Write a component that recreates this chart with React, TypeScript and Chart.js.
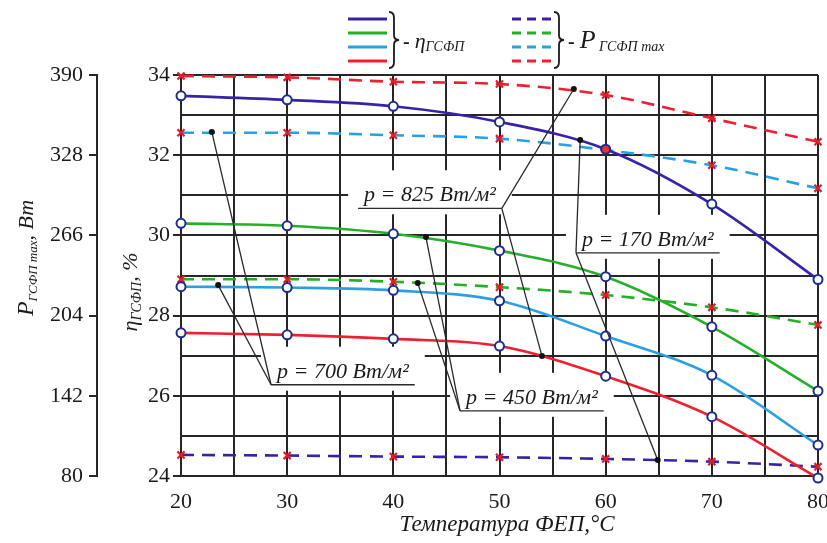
import React, { useEffect, useRef } from "react";
import { Chart, registerables } from "chart.js";
Chart.register(...registerables);

// ---------- data ----------
const temps = [20, 30, 40, 50, 60, 70, 80];
// efficiency η (%), solid lines
const etaPurple = [33.48, 33.38, 33.22, 32.83, 32.15, 30.78, 28.9];
const etaGreen = [30.3, 30.24, 30.04, 29.62, 28.97, 27.72, 26.12];
const etaBlue = [28.72, 28.7, 28.63, 28.37, 27.49, 26.51, 24.77];
const etaRed = [27.57, 27.52, 27.42, 27.24, 26.49, 25.48, 23.95];
// max power P (W), dashed lines
const pRed = [389.2, 388.2, 384.8, 383, 374.5, 356.5, 338.4];
const pBlue = [345.4, 345.4, 343.4, 340.8, 332, 320.2, 302.4];
const pGreen = [232.1, 232.1, 230.2, 226, 219.9, 210.4, 196.8];
const pPurple = [96.3, 95.8, 95, 94.5, 93.2, 91.1, 87.2];
// ticks
const pTicks = [80, 142, 204, 266, 328, 390];
const etaTickLabels = [24, 26, 28, 30, 32, 34];
const xTickLabels = [20, 30, 40, 50, 60, 70, 80];
// annotation labels (data units: temperature, η)
const annLabels = ["p = 825 Вт/м²", "p = 700 Вт/м²", "p = 450 Вт/м²", "p = 170 Вт/м²"];
const annCenterX = [43.45, 35.25, 53.05, 63.97];
const annCenterY = [31.0, 26.6, 25.95, 29.89];
const annAnchorSide = ["right", "left", "left", "left"];
const annDots = [
  [[57, 33.65], [54, 26.99]],
  [[22.9, 32.58], [23.5, 28.76]],
  [[43.07, 29.96], [42.3, 28.81]],
  [[57.6, 32.38], [64.9, 24.4]],
];

const C_PURPLE = "#3a22a6";
const C_GREEN = "#25b02a";
const C_BLUE = "#2a9fe2";
const C_RED = "#ee2030";
const SERIF = "'Liberation Serif', 'Times New Roman', serif";

function segsDraw(ctx: CanvasRenderingContext2D, segs: any[], cx: number, cy: number, rot: number, align = "center") {
  ctx.save();
  ctx.translate(cx, cy);
  ctx.rotate(rot);
  let total = 0;
  segs.forEach((s) => {
    ctx.font = s.font;
    s.w = ctx.measureText(s.t).width;
    total += s.w;
  });
  let x = align === "center" ? -total / 2 : 0;
  ctx.textBaseline = "alphabetic";
  ctx.textAlign = "left";
  ctx.fillStyle = "#1a1a1a";
  segs.forEach((s) => {
    ctx.font = s.font;
    ctx.fillText(s.t, x, s.dy);
    x += s.w;
  });
  ctx.restore();
}

function brace(ctx: CanvasRenderingContext2D, x: number, y1: number, y2: number, w: number) {
  const ym = (y1 + y2) / 2;
  const xm = x + w * 0.5;
  ctx.save();
  ctx.strokeStyle = "#1a1a1a";
  ctx.lineWidth = 1.8;
  ctx.beginPath();
  ctx.moveTo(x, y1);
  ctx.quadraticCurveTo(xm, y1, xm, y1 + 6);
  ctx.lineTo(xm, ym - 5);
  ctx.quadraticCurveTo(xm, ym, x + w, ym);
  ctx.quadraticCurveTo(xm, ym, xm, ym + 5);
  ctx.lineTo(xm, y2 - 6);
  ctx.quadraticCurveTo(xm, y2, x, y2);
  ctx.stroke();
  ctx.restore();
}

const ANN_FONT = "italic 22px " + SERIF;

function annGeom(ctx: CanvasRenderingContext2D, chart: any, i: number) {
  const xs = chart.scales.x;
  const ys = chart.scales.yEta;
  const cx = xs.getPixelForValue(annCenterX[i]);
  const cy = ys.getPixelForValue(annCenterY[i]);
  ctx.font = ANN_FONT;
  const w = ctx.measureText(annLabels[i]).width;
  return { cx, cy, w };
}

const overlay = {
  id: "overlay",
  beforeDatasetsDraw(chart: any) {
    const ctx = chart.ctx as CanvasRenderingContext2D;
    ctx.save();
    ctx.fillStyle = "#ffffff";
    for (let i = 0; i < annLabels.length; i++) {
      const { cx, cy, w } = annGeom(ctx, chart, i);
      ctx.fillRect(cx - w / 2 - 16, cy - 25, w + 32, 44);
    }
    ctx.restore();
  },
  afterDraw(chart: any) {
    const ctx = chart.ctx as CanvasRenderingContext2D;
    const xs = chart.scales.x;
    const ys = chart.scales.yEta;
    // annotations
    for (let i = 0; i < annLabels.length; i++) {
      const { cx, cy, w } = annGeom(ctx, chart, i);
      ctx.save();
      ctx.font = ANN_FONT;
      ctx.fillStyle = "#1a1a1a";
      ctx.textAlign = "center";
      ctx.textBaseline = "middle";
      ctx.fillText(annLabels[i], cx, cy);
      const ul = cx - w / 2 - 6;
      const ur = cx + w / 2 + 6;
      const uy = cy + 13;
      ctx.strokeStyle = "#2a2a2a";
      ctx.lineWidth = 1.3;
      ctx.beginPath();
      ctx.moveTo(ul, uy);
      ctx.lineTo(ur, uy);
      ctx.stroke();
      const ax = annAnchorSide[i] === "right" ? ur : ul;
      annDots[i].forEach((d) => {
        const px = xs.getPixelForValue(d[0]);
        const py = ys.getPixelForValue(d[1]);
        ctx.beginPath();
        ctx.moveTo(ax, uy);
        ctx.lineTo(px, py);
        ctx.stroke();
        ctx.beginPath();
        ctx.fillStyle = "#111";
        ctx.arc(px, py, 3, 0, Math.PI * 2);
        ctx.fill();
      });
      ctx.restore();
    }
    // legend
    const cols = [C_PURPLE, C_GREEN, C_BLUE, C_RED];
    const ly = [19, 33, 47, 61];
    ctx.save();
    ctx.lineWidth = 3;
    cols.forEach((c, k) => {
      ctx.strokeStyle = c;
      ctx.setLineDash([]);
      ctx.beginPath();
      ctx.moveTo(348, ly[k]);
      ctx.lineTo(387, ly[k]);
      ctx.stroke();
      ctx.setLineDash([9, 6]);
      ctx.beginPath();
      ctx.moveTo(512, ly[k]);
      ctx.lineTo(552, ly[k]);
      ctx.stroke();
    });
    ctx.restore();
    brace(ctx, 389, 12, 68, 10);
    brace(ctx, 554, 12, 68, 10);
    segsDraw(ctx, [
      { t: "- ", font: "bold 20px " + SERIF, dy: 0 },
      { t: "η", font: "italic 22px " + SERIF, dy: 0 },
      { t: "ГСФП", font: "italic 14px " + SERIF, dy: 3 },
    ], 403, 48, 0, "left");
    segsDraw(ctx, [
      { t: "- ", font: "bold 20px " + SERIF, dy: 0 },
      { t: "P", font: "italic 26px " + SERIF, dy: 0 },
      { t: " ГСФП max", font: "italic 14px " + SERIF, dy: 3 },
    ], 568, 48, 0, "left");
    // axis titles
    segsDraw(ctx, [
      { t: "P", font: "italic 24px " + SERIF, dy: 8 },
      { t: "ГСФП max", font: "italic 13px " + SERIF, dy: 12 },
      { t: ", Вт", font: "italic 22px " + SERIF, dy: 8 },
    ], 25, 258, -Math.PI / 2);
    segsDraw(ctx, [
      { t: "η", font: "italic 22px " + SERIF, dy: 7 },
      { t: "ГСФП", font: "italic 14px " + SERIF, dy: 11 },
      { t: ", %", font: "italic 22px " + SERIF, dy: 7 },
    ], 130, 292, -Math.PI / 2);
    segsDraw(ctx, [
      { t: "Температура ФЕП,°С", font: "italic 23px " + SERIF, dy: 8 },
    ], 507, 523, 0);
  },
};

function mk(data: number[]) {
  return temps.map((t, i) => ({ x: t, y: data[i] }));
}

export default function App() {
  const ref = useRef<HTMLCanvasElement | null>(null);
  useEffect(() => {
    if (!ref.current) return;
    const solid = (label: string, d: number[], color: string, bg?: any) => ({
      label,
      data: mk(d),
      yAxisID: "yEta",
      borderColor: color,
      borderWidth: 2.6,
      pointStyle: "circle",
      pointRadius: 4.5,
      pointBackgroundColor: bg || "#ffffff",
      pointBorderColor: "#1d2c8e",
      pointBorderWidth: 2,
      cubicInterpolationMode: "monotone",
      clip: false,
    });
    const dashed = (label: string, d: number[], color: string) => ({
      label,
      data: mk(d),
      yAxisID: "yP",
      borderColor: color,
      borderWidth: 2.6,
      borderDash: [13, 8],
      pointStyle: "crossRot",
      pointRadius: 5,
      pointBorderColor: "#e31c2c",
      pointBorderWidth: 2.2,
      cubicInterpolationMode: "monotone",
      clip: false,
    });
    const gridColor = "#262626";
    const chart = new Chart(ref.current, {
      type: "line",
      data: {
        datasets: [
          solid("η 825", etaPurple, C_PURPLE, ["#fff", "#fff", "#fff", "#fff", "#e83030", "#fff", "#fff"]),
          solid("η 700", etaGreen, C_GREEN),
          solid("η 450", etaBlue, C_BLUE),
          solid("η 170", etaRed, C_RED),
          dashed("P red", pRed, C_RED),
          dashed("P blue", pBlue, C_BLUE),
          dashed("P green", pGreen, C_GREEN),
          dashed("P purple", pPurple, C_PURPLE),
        ] as any,
      },
      options: {
        animation: false,
        responsive: true,
        maintainAspectRatio: false,
        layout: { padding: { top: 75, right: 9, left: 0, bottom: 0 } },
        plugins: { legend: { display: false }, tooltip: { enabled: false } },
        scales: {
          x: {
            type: "linear",
            min: 20,
            max: 80,
            ticks: {
              stepSize: 5,
              callback: (v: any) => (xTickLabels.includes(Number(v)) ? String(v) : ""),
              font: { family: SERIF, size: 22 },
              color: "#1a1a1a",
              padding: 13,
              maxRotation: 0,
              autoSkip: false,
            },
            grid: { color: gridColor, lineWidth: 2, drawTicks: false },
            border: { color: gridColor, width: 2 },
            afterFit: (s: any) => {
              s.height = 67;
              s.paddingLeft = 0;
              s.paddingRight = 0;
            },
          },
          yEta: {
            type: "linear",
            position: "left",
            weight: 0,
            min: 24,
            max: 34,
            ticks: {
              stepSize: 1,
              callback: (v: any) => (etaTickLabels.includes(Number(v)) ? String(v) : ""),
              font: { family: SERIF, size: 22 },
              color: "#1a1a1a",
              padding: 3,
              autoSkip: false,
            },
            grid: {
              color: gridColor,
              lineWidth: 2,
              tickLength: 8,
              tickColor: (c: any) => (c.tick && etaTickLabels.includes(c.tick.value) ? gridColor : "rgba(0,0,0,0)"),
            },
            border: { color: gridColor, width: 2 },
            afterFit: (s: any) => {
              s.width = 84;
              s.paddingTop = 0;
              s.paddingBottom = 0;
            },
          },
          yP: {
            type: "linear",
            position: "left",
            weight: 1,
            min: 80,
            max: 390,
            afterBuildTicks: (s: any) => {
              s.ticks = pTicks.map((v) => ({ value: v }));
            },
            ticks: {
              font: { family: SERIF, size: 22 },
              color: "#1a1a1a",
              padding: 6,
              autoSkip: false,
            },
            grid: { drawOnChartArea: false, color: gridColor, lineWidth: 2, tickLength: 8 },
            border: { color: gridColor, width: 2 },
            afterFit: (s: any) => {
              s.width = 97;
              s.paddingTop = 0;
              s.paddingBottom = 0;
            },
          },
        },
      } as any,
      plugins: [overlay],
    });
    return () => chart.destroy();
  }, []);
  return (
    <div style={{ position: "absolute", left: 0, top: 0, width: 827, height: 543, background: "#fff" }}>
      <canvas ref={ref} />
    </div>
  );
}
